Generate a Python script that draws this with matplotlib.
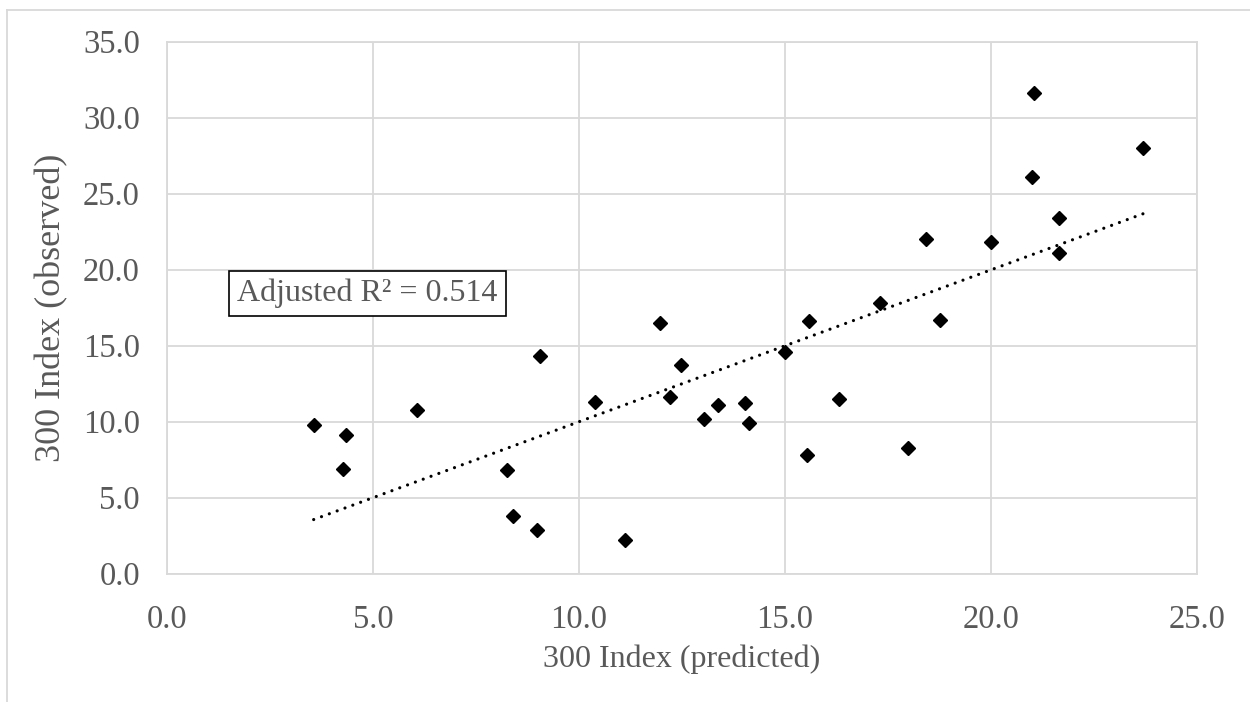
import numpy as np
import matplotlib
matplotlib.use("Agg")
import matplotlib.pyplot as plt
from matplotlib.lines import Line2D

# Data
x_predicted = [3.56, 4.34, 4.26, 6.06, 9.05, 8.25, 8.39, 8.97, 10.40, 11.12,
               11.97, 12.47, 12.22, 13.04, 13.38, 14.04, 14.12, 15.00, 15.59, 15.53,
               16.31, 17.31, 17.98, 18.42, 18.77, 20.00, 21.04, 20.99, 21.64, 21.64,
               23.69]
y_observed = [9.8, 9.1, 6.9, 10.8, 14.3, 6.8, 3.8, 2.9, 11.3, 2.2,
              16.5, 13.7, 11.6, 10.2, 11.1, 11.2, 9.9, 14.6, 16.6, 7.8,
              11.5, 17.8, 8.3, 22.0, 16.7, 21.8, 31.6, 26.1, 23.4, 21.1,
              28.0]
x_ticks = [0, 5, 10, 15, 20, 25]
y_ticks = [0, 5, 10, 15, 20, 25, 30, 35]
annotation = "Adjusted R\u00b2 = 0.514"
x_label = "300 Index (predicted)"
y_label = "300 Index (observed)"

plt.rcParams['font.family'] = ['Liberation Serif', 'DejaVu Serif']
grey_text = '#595959'
grid_col = '#D9D9D9'

W, H = 1250, 702
fig = plt.figure(figsize=(W/100, H/100), dpi=100)
ax_l, ax_r, ax_t, ax_b = 167, 1197, 41.7, 573.7
ax = fig.add_axes([ax_l/W, 1-ax_b/H, (ax_r-ax_l)/W, (ax_b-ax_t)/H])

ax.set_xlim(0, 25)
ax.set_ylim(0, 35)
ax.set_xticks(x_ticks)
ax.set_yticks(y_ticks)
ax.set_xticklabels([f"{v:.1f}" for v in x_ticks])
ax.set_yticklabels([f"{v:.1f}" for v in y_ticks])
ax.tick_params(axis='both', length=0, labelsize=23.5, labelcolor=grey_text)
ax.tick_params(axis='y', pad=19.5)
ax.tick_params(axis='x', pad=22.5)
ax.grid(True, color=grid_col, linewidth=1.3)
ax.set_axisbelow(True)
for s in ax.spines.values():
    s.set_color(grid_col)
    s.set_linewidth(1.3)

x = np.array(x_predicted)
y = np.array(y_observed)
slope, intercept = np.polyfit(x, y, 1)
xs = np.array([x.min(), x.max()])
ax.plot(xs, slope*xs + intercept, color='black', linewidth=2.3,
        linestyle=(0, (0.01, 2.6)), dash_capstyle='round', zorder=2)

ax.plot(x, y, linestyle='none', marker='D', markersize=7.4,
        color='black', zorder=3)

ax.text(4.87, 18.43, annotation, fontsize=23, color=grey_text,
        ha='center', va='center', zorder=4,
        bbox=dict(boxstyle='square,pad=0.25', facecolor='white',
                  edgecolor='black', linewidth=1.2))

ax.set_xlabel(x_label, fontsize=23, color=grey_text)
ax.xaxis.set_label_coords(0.5, -(644 - ax_b) / (ax_b - ax_t))
ax.set_ylabel(y_label, fontsize=26, color=grey_text)
ax.yaxis.set_label_coords((68 - ax_l) / (ax_r - ax_l), 0.5)

# chart-area border (partly cropped in the reference)
fig.add_artist(Line2D([7.3/W, 7.3/W], [0, 1-9.5/H], transform=fig.transFigure,
                      color=grid_col, linewidth=1.3))
fig.add_artist(Line2D([7.3/W, 1], [1-9.5/H, 1-9.5/H], transform=fig.transFigure,
                      color=grid_col, linewidth=1.3))

fig.savefig("out.png", dpi=100)
